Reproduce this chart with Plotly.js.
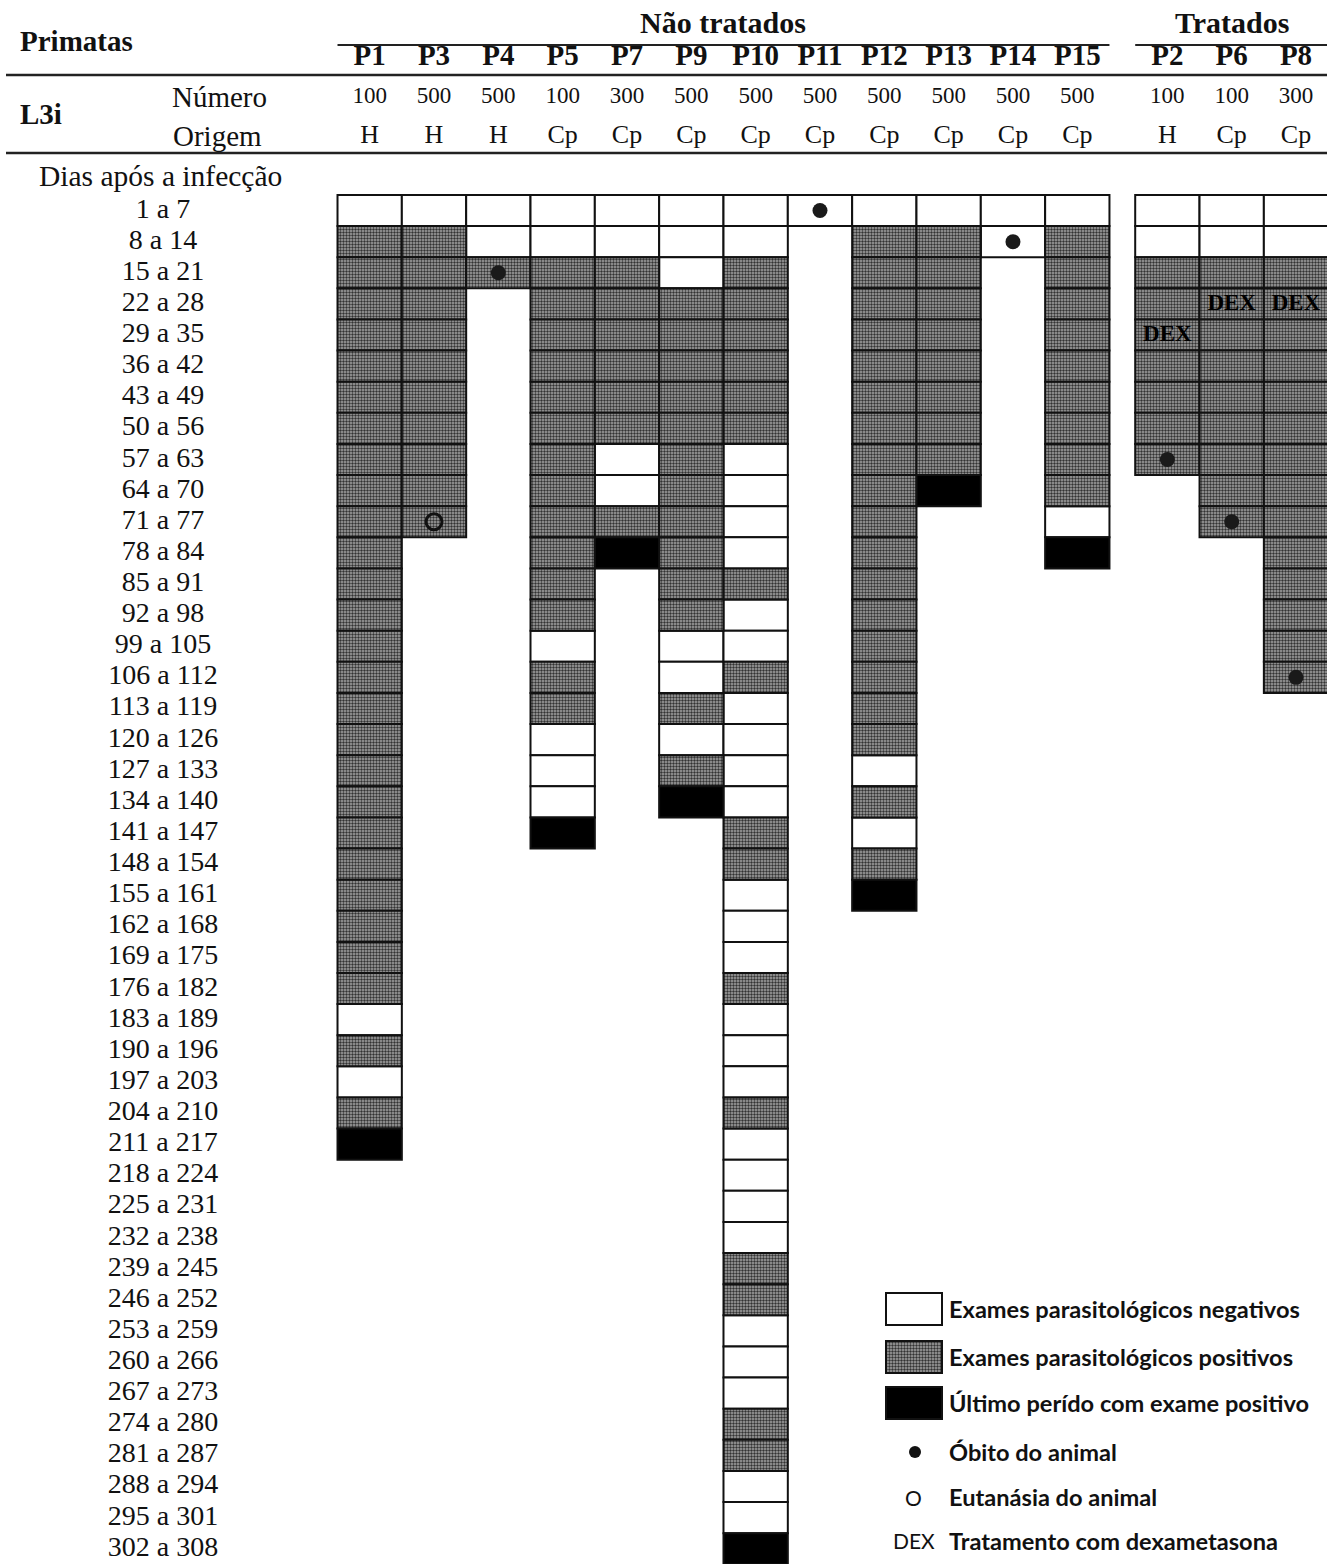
<!DOCTYPE html>
<html><head><meta charset="utf-8">
<script src="https://cdn.plot.ly/plotly-3.0.1.min.js"></script>
<style>html,body{margin:0;padding:0;background:#fff;}</style>
</head><body><div id="chart" style="width:1327px;height:1564px;"></div>
<script>
// ---------------- DATA ----------------
const periods = ["1 a 7","8 a 14","15 a 21","22 a 28","29 a 35","36 a 42","43 a 49","50 a 56","57 a 63","64 a 70",
  "71 a 77","78 a 84","85 a 91","92 a 98","99 a 105","106 a 112","113 a 119","120 a 126","127 a 133","134 a 140",
  "141 a 147","148 a 154","155 a 161","162 a 168","169 a 175","176 a 182","183 a 189","190 a 196","197 a 203","204 a 210",
  "211 a 217","218 a 224","225 a 231","232 a 238","239 a 245","246 a 252","253 a 259","260 a 266","267 a 273","274 a 280",
  "281 a 287","288 a 294","295 a 301","302 a 308"];
const untreatedAnimals = ["P1","P3","P4","P5","P7","P9","P10","P11","P12","P13","P14","P15"];
const treatedAnimals = ["P2","P6","P8"];
const larvaeNumber = [100,500,500,100,300,500,500,500,500,500,500,500, 100,100,300];
const larvaeOrigin = ["H","H","H","Cp","Cp","Cp","Cp","Cp","Cp","Cp","Cp","Cp", "H","Cp","Cp"];
// weekly exam result per animal (same order as untreated + treated):
// N = negativo, P = positivo, L = último período com exame positivo
const examResults = [
  "N PPPPP PPPPP PPPPP PPPPP PPPPP NPNPL",          // P1
  "N PPPPP PPPPP",                                   // P3
  "NNP",                                             // P4
  "NN PPPPPPPPPPPP N PP NNN L",                      // P5
  "NN PPPPPP NN P L",                                // P7
  "NNN PPPPPPPPPPP NN P N P L",                      // P9
  "NN PPPPPP NNNN P NN P NNNN PP NNN P NNN P NNNN PP NNN PP NN L", // P10
  "N",                                               // P11
  "N PPPPPPPPPPPPPPPPP N P N P L",                   // P12
  "N PPPPPPPP L",                                    // P13
  "NN",                                              // P14
  "N PPPPPPPPP N L",                                 // P15
  "NN PPPPPPP",                                      // P2
  "NN PPPPPPPPP",                                    // P6
  "NN PPPPPPPPPPPPPP"                                // P8
];
const deathAnimals = ["P4","P11","P14","P2","P6","P8"];
const deathPeriods = ["15 a 21","1 a 7","8 a 14","57 a 63","71 a 77","106 a 112"];
const euthanasiaAnimals = ["P3"];
const euthanasiaPeriods = ["71 a 77"];
const dexAnimals = ["P2","P6","P8"];
const dexPeriods = ["29 a 35","22 a 28","22 a 28"];

// ---------------- LAYOUT HELPERS ----------------
const W = 1327, H = 1564;
const COL_PX = 64.33, X0_PX = 369.67;   // pixel width of a column, pixel centre of first column
const ROW_PX = 31.12, Y0_PX = 210.56;   // pixel height of a row, pixel centre of first row
const GROUP_GAP = 0.4;
const px2x = p => (p - X0_PX) / COL_PX;
const px2y = p => (p - Y0_PX) / ROW_PX;
const pyPaper = p => 1 - p / H;
const pxPaper = p => p / W;
const allAnimals = untreatedAnimals.concat(treatedAnimals);
function colX(name){
  const i = untreatedAnimals.indexOf(name);
  return i >= 0 ? i : untreatedAnimals.length + GROUP_GAP + treatedAnimals.indexOf(name);
}
const rowY = p => periods.indexOf(p);

const SERIF = "Liberation Serif, Times New Roman, serif";
const SANS = "Lato, Noto Sans, sans-serif";
const GRAY_PATTERN = {shape: '.', fgcolor: '#333333', bgcolor: '#a6a6a6', size: 3, solidity: 0.5};
const styles = {
  N: {color: '#ffffff'},
  P: {color: '#969696', pattern: GRAY_PATTERN},
  L: {color: '#000000'}
};

const traces = [];
['N','P','L'].forEach(code => {
  const xs = [], bases = [], ys = [];
  allAnimals.forEach((a, k) => {
    examResults[k].replace(/\s+/g, '').split('').forEach((c, r) => {
      if (c === code) { xs.push(colX(a)); bases.push(r - 0.5); ys.push(1); }
    });
  });
  const m = {color: styles[code].color, line: {color: '#111', width: 2}};
  if (styles[code].pattern) m.pattern = styles[code].pattern;
  traces.push({type: 'bar', x: xs, y: ys, base: bases, width: xs.map(() => 1),
    marker: m, hoverinfo: 'skip', showlegend: false});
});

// markers
traces.push({type: 'scatter', mode: 'markers', x: deathAnimals.map(colX), y: deathPeriods.map(rowY),
  marker: {symbol: 'circle', size: 15, color: '#1a1a1a', line: {width: 0}}, showlegend: false, hoverinfo: 'skip', cliponaxis: false});
traces.push({type: 'scatter', mode: 'markers', x: euthanasiaAnimals.map(colX), y: euthanasiaPeriods.map(rowY),
  marker: {symbol: 'circle-open', size: 16, color: '#111', line: {width: 3, color: '#111'}}, showlegend: false, hoverinfo: 'skip'});
traces.push({type: 'scatter', mode: 'text', x: dexAnimals.map(colX), y: dexPeriods.map(rowY),
  text: dexAnimals.map(() => '<b>DEX</b>'), textfont: {family: SERIF, size: 23, color: '#000'},
  showlegend: false, hoverinfo: 'skip'});

// row labels
traces.push({type: 'scatter', mode: 'text', x: periods.map(() => px2x(163)), y: periods.map((p, i) => i),
  text: periods, textfont: {family: SERIF, size: 28, color: '#111'}, showlegend: false, hoverinfo: 'skip', cliponaxis: false});
// column headers
traces.push({type: 'scatter', mode: 'text', x: allAnimals.map(colX), y: allAnimals.map(() => px2y(58)),
  text: allAnimals.map(a => '<b>' + a + '</b>'), textfont: {family: SERIF, size: 29, color: '#111'},
  showlegend: false, hoverinfo: 'skip', cliponaxis: false});
traces.push({type: 'scatter', mode: 'text', x: allAnimals.map(colX), y: allAnimals.map(() => px2y(97)),
  text: larvaeNumber.map(String), textfont: {family: SERIF, size: 23, color: '#111'},
  showlegend: false, hoverinfo: 'skip', cliponaxis: false});
traces.push({type: 'scatter', mode: 'text', x: allAnimals.map(colX), y: allAnimals.map(() => px2y(136)),
  text: larvaeOrigin, textfont: {family: SERIF, size: 26, color: '#111'},
  showlegend: false, hoverinfo: 'skip', cliponaxis: false});

// legend swatches (bars placed at legend position)
const legendCodes = ['N','P','L'];
const legendPx = [1309, 1357, 1403];
legendCodes.forEach((code, i) => {
  const m = {color: styles[code].color, line: {color: '#111', width: 2}};
  if (styles[code].pattern) m.pattern = styles[code].pattern;
  traces.push({type: 'bar', x: [px2x(914)], y: [32 / ROW_PX], base: [px2y(legendPx[i] - 16)],
    width: [56 / COL_PX], marker: m, hoverinfo: 'skip', showlegend: false});
});
traces.push({type: 'scatter', mode: 'markers', x: [px2x(915)], y: [px2y(1452)],
  marker: {symbol: 'circle', size: 12, color: '#111'}, showlegend: false, hoverinfo: 'skip'});

const legendTexts = ["Exames parasitológicos negativos", "Exames parasitológicos positivos", "Último perído com exame positivo",
  "Óbito do animal", "Eutanásia do animal", "Tratamento com dexametasona"];
const legendTextPx = [1309, 1357, 1403, 1452, 1497, 1541];

const annotations = [];
function ann(text, x, y, opts){
  annotations.push(Object.assign({text: text, x: x, y: y, xref: 'paper', yref: 'paper', showarrow: false,
    xanchor: 'center', yanchor: 'middle', font: {family: SERIF, size: 27, color: '#111'}}, opts || {}));
}
ann('<b>Primatas</b>', pxPaper(76), pyPaper(41), {font: {family: SERIF, size: 29, color: '#111'}});
ann('<b>L3i</b>', pxPaper(41), pyPaper(114), {font: {family: SERIF, size: 29, color: '#111'}});
ann('Número', pxPaper(219), pyPaper(97), {font: {family: SERIF, size: 29, color: '#111'}});
ann('Origem', pxPaper(218), pyPaper(136), {font: {family: SERIF, size: 29, color: '#111'}});
ann('Dias após a infecção', pxPaper(160), pyPaper(176), {font: {family: SERIF, size: 29.5, color: '#111'}});
ann('<b>Não tratados</b>', (untreatedAnimals.length - 1) / 2, pyPaper(23), {xref: 'x', font: {family: SERIF, size: 30, color: '#111'}});
ann('<b>Tratados</b>', colX(treatedAnimals[1]), pyPaper(23), {xref: 'x', font: {family: SERIF, size: 30, color: '#111'}});
legendTexts.forEach((t, i) => ann(t, pxPaper(947), pyPaper(legendTextPx[i]), {xanchor: 'left',
  font: {family: SANS, size: 23.6, color: '#111', weight: 700}}));
ann('O', pxPaper(913), pyPaper(1497), {font: {family: SANS, size: 21, color: '#111'}});
ann('DEX', pxPaper(914), pyPaper(1540), {font: {family: SANS, size: 21, color: '#111'}});

const shapes = [
  {type: 'line', xref: 'paper', yref: 'paper', x0: pxPaper(6), x1: 1, y0: pyPaper(75), y1: pyPaper(75), line: {color: '#222', width: 2.5}},
  {type: 'line', xref: 'paper', yref: 'paper', x0: pxPaper(6), x1: 1, y0: pyPaper(153), y1: pyPaper(153), line: {color: '#222', width: 2.5}},
  {type: 'line', xref: 'x', yref: 'paper', x0: -0.5, x1: untreatedAnimals.length - 0.5, y0: pyPaper(45), y1: pyPaper(45), line: {color: '#222', width: 2}},
  {type: 'line', xref: 'x', yref: 'paper', x0: colX(treatedAnimals[0]) - 0.5, x1: colX(treatedAnimals[2]) + 0.6, y0: pyPaper(45), y1: pyPaper(45), line: {color: '#222', width: 2}}
];

const layout = {
  width: W, height: H, autosize: false,
  margin: {l: 0, r: 0, t: 0, b: 0, pad: 0},
  paper_bgcolor: '#ffffff', plot_bgcolor: '#ffffff',
  barmode: 'overlay', showlegend: false,
  xaxis: {range: [px2x(0), px2x(W)], visible: false, fixedrange: true},
  yaxis: {range: [px2y(H), px2y(0)], visible: false, fixedrange: true},
  annotations: annotations, shapes: shapes
};
Plotly.newPlot('chart', traces, layout, {staticPlot: true, displayModeBar: false});
</script></body></html>
